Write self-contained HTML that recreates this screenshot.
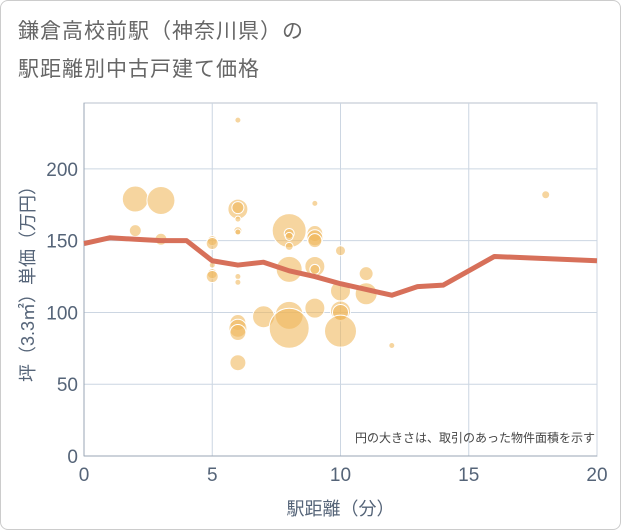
<!DOCTYPE html>
<html><head><meta charset="utf-8"><style>
body{margin:0;background:#fff;font-family:"Liberation Sans","Noto Sans CJK JP",sans-serif;}
#wrap{position:relative;width:619px;height:528px;border:1px solid #ccc;border-radius:8px;overflow:hidden;background:#fff}
.t{position:absolute;left:17px;font-size:21px;color:#666;letter-spacing:1px}
</style></head><body>
<div id="wrap">
<div class="t" style="top:14px">鎌倉高校前駅（神奈川県）の</div>
<div class="t" style="top:52px">駅距離別中古戸建て価格</div>
<svg id="c" width="621" height="530" style="position:absolute;left:-1px;top:-1px"></svg>
</div>
<script>
const lineX=[0,1,2,3,4,5,6,7,8,9,10,11,12,13,14,16,20];
const lineY=[148,152,151,150,150,136,133,135,129,125,120,116,112,118,119,139,136];
const bubX=[2,2,3,3,5,5,5,5,5,6,6,6,6,6,6,6,6,6,6,6,6,7,8,8,8,8,8,8,8,9,9,9,9,9,9,9,10,10,10,10,10,11,11,12,18];
const bubY=[179,157,178,151,150,148,127,125,133,234,172,173,165,157,156,125,121,93,89,86,65,97,157,155,153,146,130,98,89,176,155,152,150,132,130,103,143,115,101,100,87,127,113,77,182];
const bubR=[13,6,14,6,5,6,5,6,3,3,10,6,3,4,3,3,3,8,9,8,8,11,17,5,4,4,13,14,20,3,8,8,7,10,5,10,5,10,10,8,16,7,11,3,4];
const xTicks=[0,5,10,15,20];
const yTicks=[0,50,100,150,200];
const L=84,R=597,T=103,B=456;
const sx=v=>L+(v-0)/20*(R-L);
const sy=v=>B-v/245.9*(B-T);
const svg=document.getElementById('c');
const NS='http://www.w3.org/2000/svg';
function mk(t,a,p){const e=document.createElementNS(NS,t);for(const k in a)e.setAttribute(k,a[k]);(p||svg).appendChild(e);return e;}
const bg=mk('rect',{x:L,y:T,width:R-L,height:B-T,fill:'#fff',stroke:'#b8c2cc','stroke-width':1});


xTicks.forEach(v=>{
 const g=mk('line',{x1:sx(v),x2:sx(v),y1:T,y2:B,stroke:'#ccd6e2','stroke-width':1});
 
 
 const t=mk('text',{x:sx(v),y:B+25,'text-anchor':'middle','font-size':19,fill:'#556478'});
 t.textContent=v;
 
 
});
yTicks.forEach(v=>{
 const g=mk('line',{x1:L,x2:R,y1:sy(v),y2:sy(v),stroke:'#ccd6e2','stroke-width':1});
 
 
 const t=mk('text',{x:L-6,y:sy(v)+7,'text-anchor':'end','font-size':19,fill:'#556478'});
 t.textContent=v;
 
 
});
mk('line',{x1:L,x2:L,y1:T,y2:B,stroke:'#9aa6b4','stroke-width':1});
mk('line',{x1:L,x2:R,y1:B,y2:B,stroke:'#9aa6b4','stroke-width':1});
bubX.forEach((x,i)=>{
 const c=mk('circle',{cx:sx(x),cy:sy(bubY[i]),r:bubR[i],fill:'rgba(240,182,90,0.58)',stroke:'#fff','stroke-width':1});
 
 
});
const pl=mk('polyline',{points:lineX.map((x,i)=>sx(x)+','+sy(lineY[i])).join(' '),fill:'none',stroke:'#d7705a','stroke-width':5,'stroke-linejoin':'round'});


const n=mk('text',{x:R-2,y:B-14,'text-anchor':'end','font-size':12,fill:'#444'});
n.textContent='円の大きさは、取引のあった物件面積を示す';


const xt=mk('text',{x:(L+R)/2,y:515,'text-anchor':'middle','font-size':18,fill:'#556478'});
xt.textContent='駅距離（分）';


const yt=mk('text',{x:0,y:0,'text-anchor':'middle','font-size':18,fill:'#556478',transform:'translate(34,'+((T+B)/2)+') rotate(-90)'});
yt.textContent='坪（3.3㎡）単価（万円）';


</script>
</body></html>
